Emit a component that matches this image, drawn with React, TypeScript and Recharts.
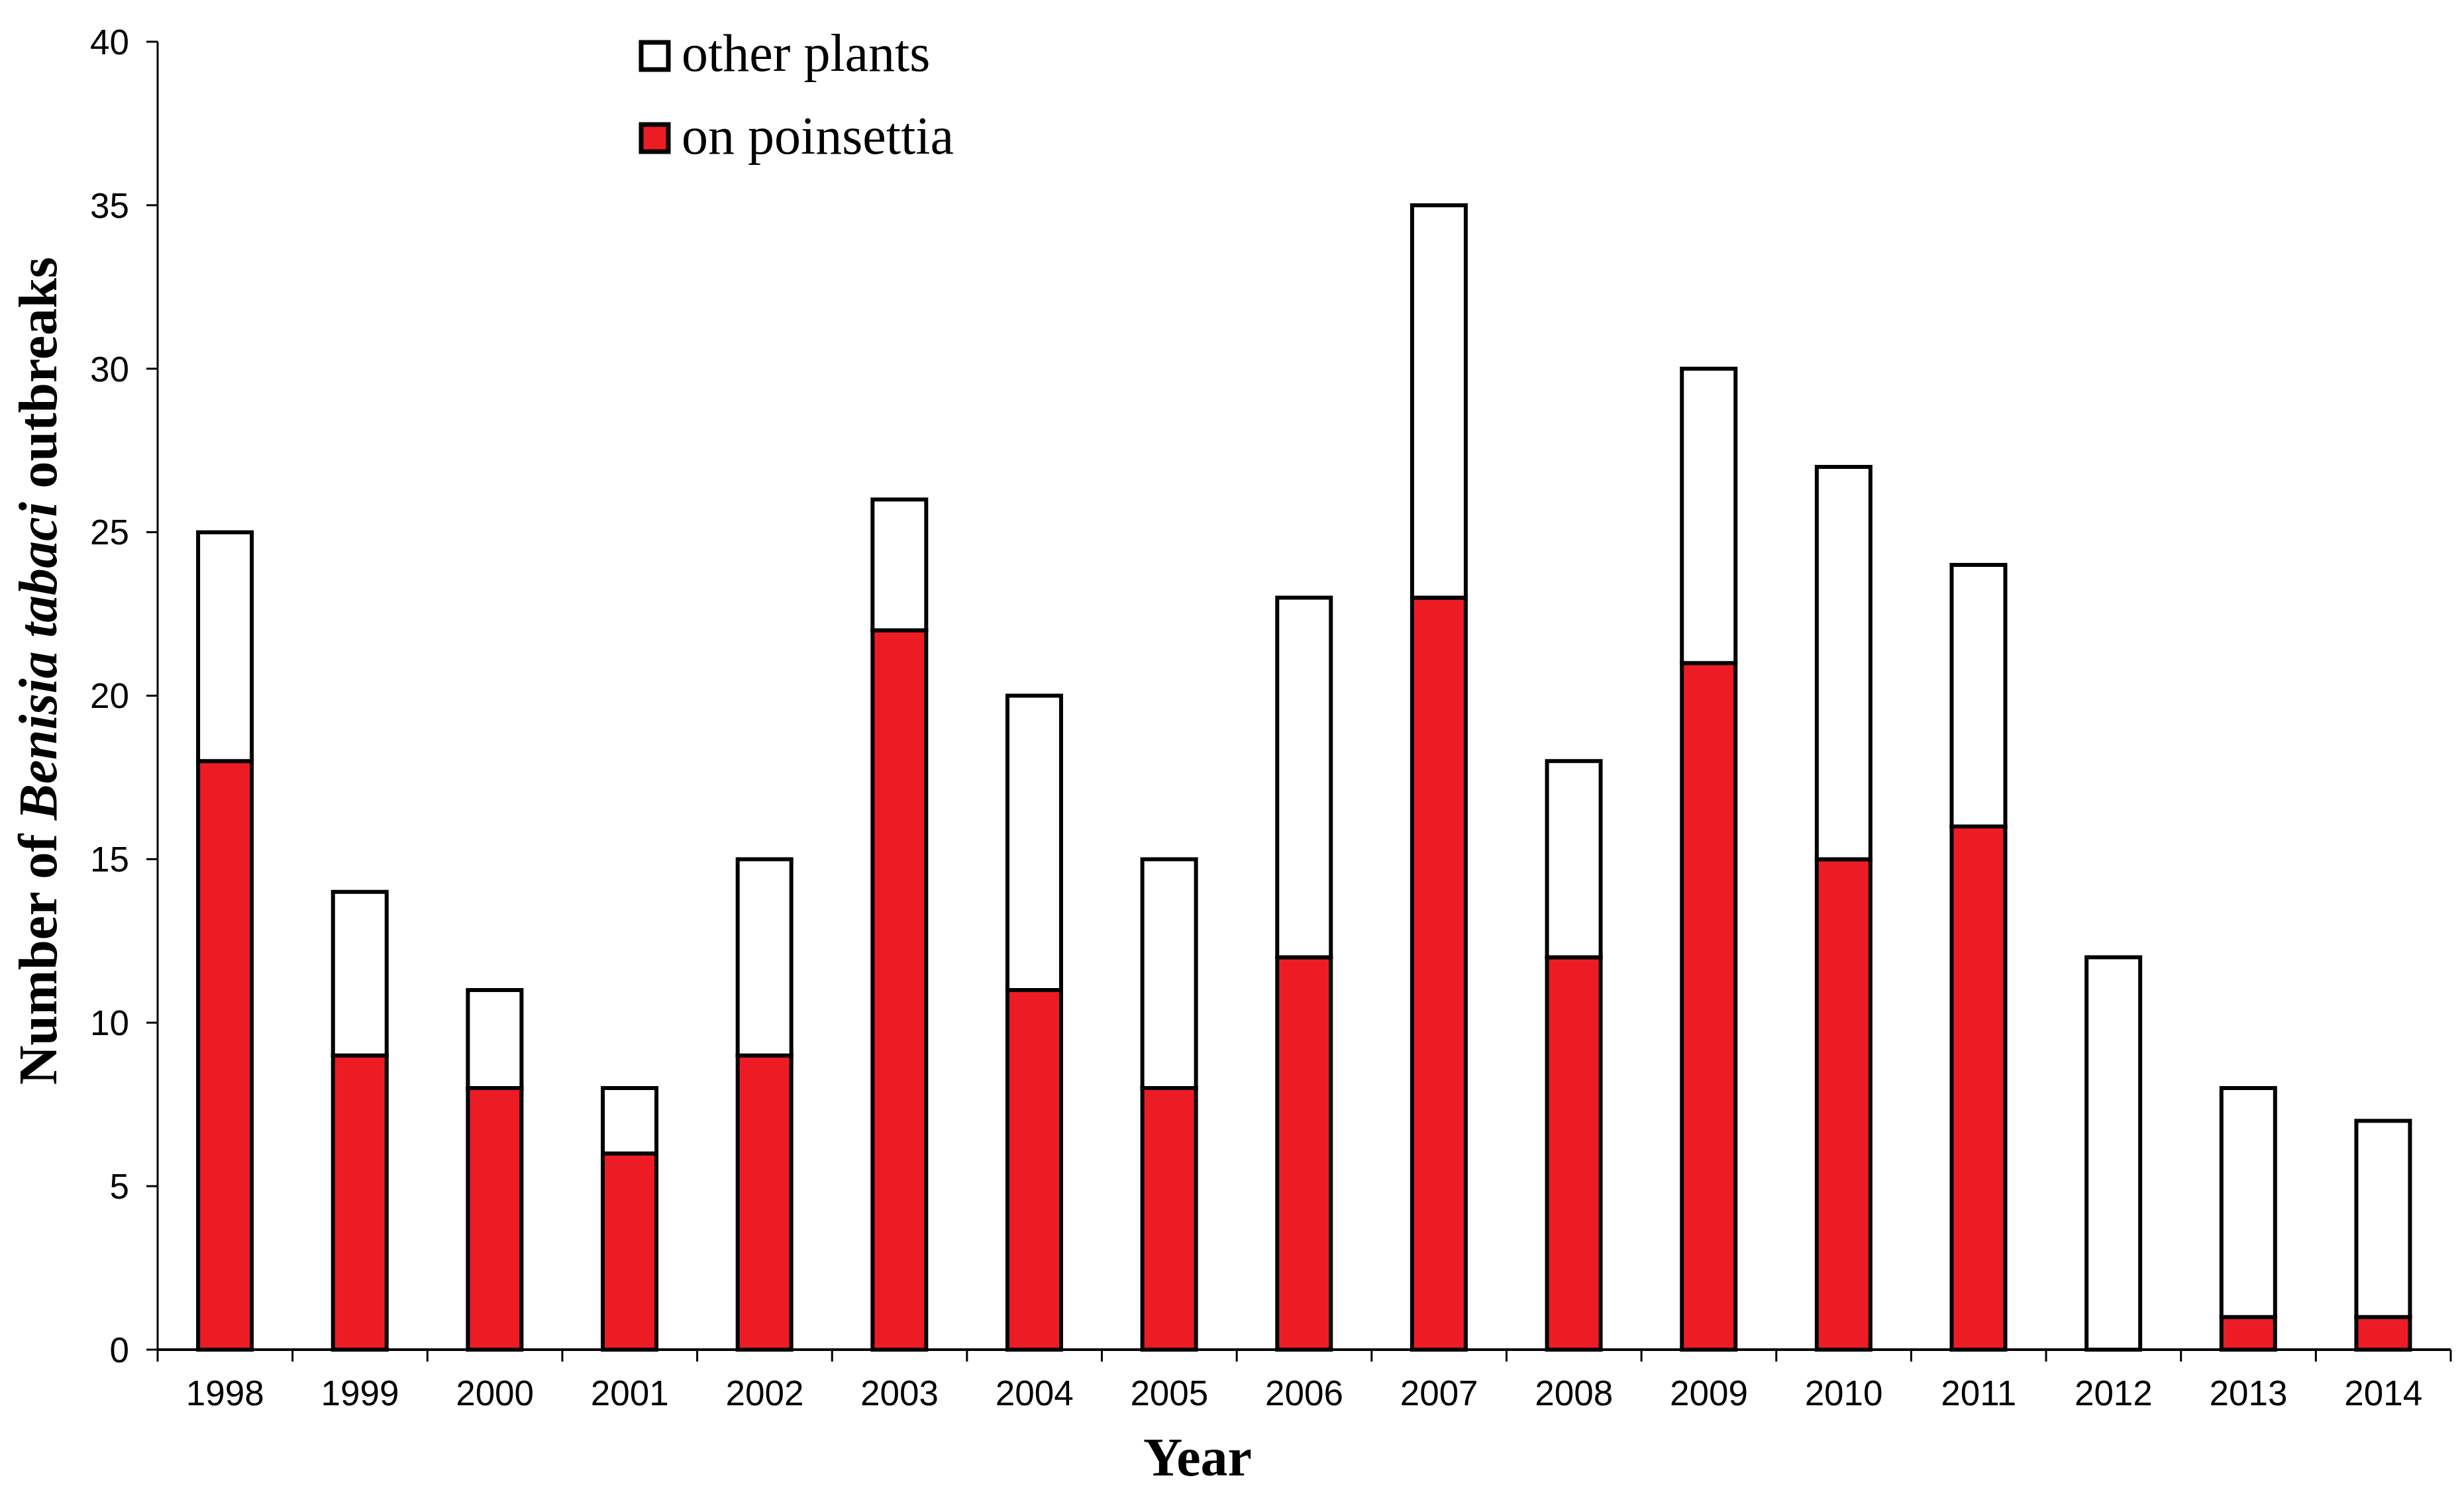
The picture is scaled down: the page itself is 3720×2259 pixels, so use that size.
import { BarChart, Bar, XAxis, YAxis, Legend, Label } from 'recharts';

const years = ['1998', '1999', '2000', '2001', '2002', '2003', '2004', '2005', '2006', '2007', '2008', '2009', '2010', '2011', '2012', '2013', '2014'];
const onPoinsettia = [18, 9, 8, 6, 9, 22, 11, 8, 12, 23, 12, 21, 15, 16, 0, 1, 1];
const otherPlants = [7, 5, 3, 2, 6, 4, 9, 7, 11, 12, 6, 9, 12, 8, 12, 7, 6];
const yTicks = [0, 5, 10, 15, 20, 25, 30, 35, 40];

const RED = '#ED1C24';
const SANS = '"Liberation Sans", Arial, sans-serif';
const SERIF = '"Liberation Serif", "Times New Roman", serif';

const W = 3704;
const H = 2243;
const Y_AXIS_W = 230;
const MARGIN = { top: 55, right: 12, left: 0, bottom: 0 };
const BAND = (W - MARGIN.left - MARGIN.right - Y_AXIS_W) / years.length;

const chartData = years.map((year, i) => ({
  year,
  poinsettia: onPoinsettia[i],
  other: otherPlants[i],
}));

interface TickProps {
  x?: number;
  y?: number;
  index?: number;
  payload?: { value: string };
}

// year label under each bar, tick marks sit on the category boundaries
function YearTick({ x = 0, y = 0, index = 0, payload }: TickProps) {
  const half = BAND / 2;
  return (
    <g>
      <line x1={x - half} x2={x - half} y1={y} y2={y + 18} stroke="#000" strokeWidth={3} />
      {index === years.length - 1 && (
        <line x1={x + half} x2={x + half} y1={y} y2={y + 18} stroke="#000" strokeWidth={3} />
      )}
      <text x={x} y={y + 84} textAnchor="middle" fontFamily={SANS} fontSize={53} fill="#000">
        {payload?.value}
      </text>
    </g>
  );
}

interface LegendEntry {
  value?: string;
  color?: string;
}

function BoxLegend({ payload }: { payload?: LegendEntry[] }) {
  const items = [...(payload ?? [])].reverse();
  return (
    <svg width={800} height={260} style={{ overflow: 'visible' }}>
      {items.map((item, i) => (
        <g key={item.value}>
          <rect x={13} y={19 + i * 124} width={41} height={41} fill={item.color} stroke="#000" strokeWidth={7} />
          <text x={74} y={62 + i * 125} fontFamily={SERIF} fontSize={80} fill="#000">
            {item.value}
          </text>
        </g>
      ))}
    </svg>
  );
}

export default function App() {
  return (
    <div style={{ width: W, height: H, background: '#fff' }}>
      <BarChart width={W} height={H} data={chartData} margin={MARGIN} barCategoryGap="30%">
        <XAxis
          dataKey="year"
          interval={0}
          tickSize={0}
          tickMargin={0}
          tickLine={false}
          tick={<YearTick />}
          height={213}
          axisLine={{ stroke: '#000', strokeWidth: 4 }}
        >
          <Label
            content={() => (
              <text x={1800} y={2220} textAnchor="middle" fontFamily={SERIF} fontWeight="bold" fontSize={82} fill="#000">
                Year
              </text>
            )}
          />
        </XAxis>
        <YAxis
          domain={[0, 40]}
          ticks={yTicks}
          interval={0}
          width={Y_AXIS_W}
          tickSize={17}
          tickMargin={26}
          tick={{ fontFamily: SANS, fontSize: 53, fill: '#000' }}
          tickLine={{ stroke: '#000', strokeWidth: 3 }}
          axisLine={{ stroke: '#000', strokeWidth: 3 }}
        >
          <Label
            content={() => (
              <text
                x={77}
                y={1005}
                transform="rotate(-90, 77, 1005)"
                textAnchor="middle"
                fontFamily={SERIF}
                fontWeight="bold"
                fontSize={82}
                fill="#000"
              >
                Number of <tspan fontStyle="italic">Benisia tabaci</tspan> outbreaks
              </text>
            )}
          />
        </YAxis>
        <Legend
          layout="vertical"
          align="center"
          verticalAlign="middle"
          content={<BoxLegend />}
          wrapperStyle={{ left: 947, top: 37, width: 800, height: 260 }}
        />
        <Bar dataKey="poinsettia" name="on poinsettia" stackId="a" fill={RED} stroke="#000" strokeWidth={6} isAnimationActive={false} />
        <Bar dataKey="other" name="other plants" stackId="a" fill="#fff" stroke="#000" strokeWidth={6} isAnimationActive={false} />
      </BarChart>
    </div>
  );
}
